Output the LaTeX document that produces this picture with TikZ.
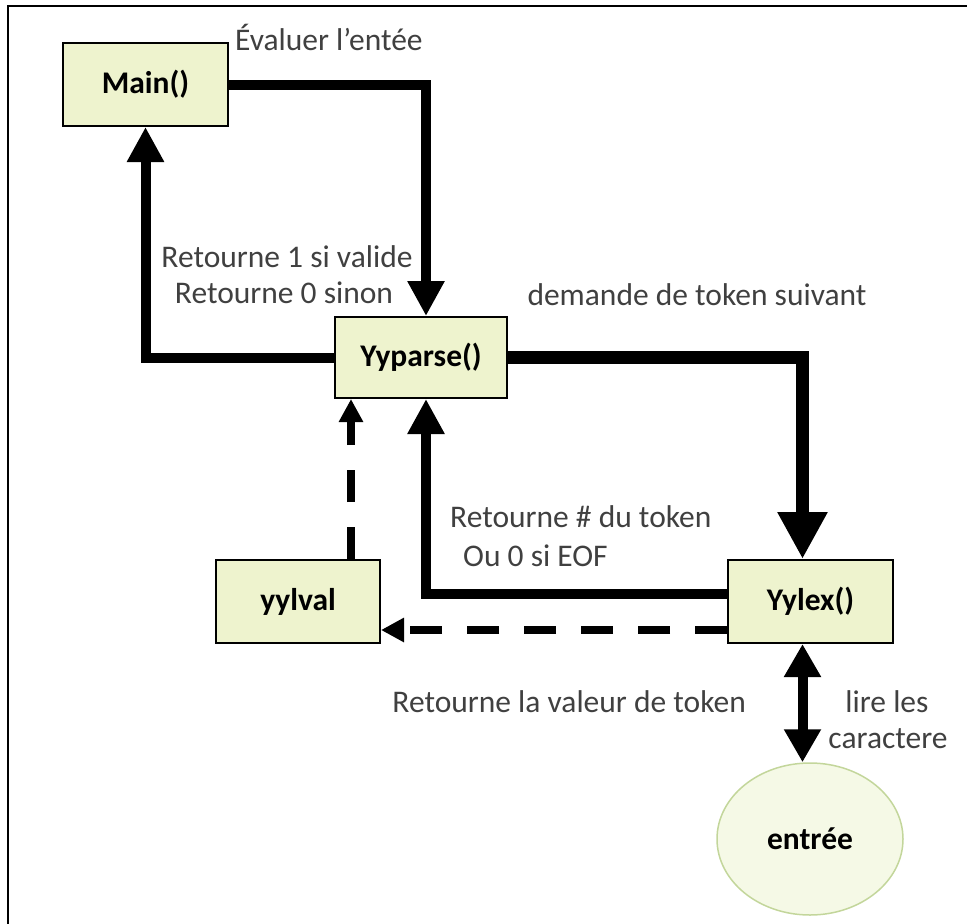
\documentclass[tikz,border=0pt]{standalone}
\usepackage{fontspec}
\setmainfont{Carlito}
\usetikzlibrary{arrows.meta,shapes.geometric}
\definecolor{boxfill}{RGB}{238,243,206}
\definecolor{ovalfill}{RGB}{245,249,230}
\definecolor{ovalline}{RGB}{195,214,155}
\definecolor{labelgray}{RGB}{64,64,64}
\begin{document}
\begin{tikzpicture}[x=1pt,y=-1pt,
  every node/.style={font=\fontsize{31.5}{38}\selectfont},
  func/.style={draw=black,line width=2pt,fill=boxfill,minimum width=165pt,minimum height=83pt,inner sep=0pt,font=\fontsize{31.5}{38}\selectfont\bfseries},
  oval/.style={ellipse,draw=ovalline,line width=1.5pt,fill=ovalfill,minimum width=186pt,minimum height=152pt,inner sep=0pt,font=\fontsize{31.5}{38}\selectfont\bfseries},
  lbl/.style={text=labelgray,inner sep=0pt},
  flow/.style={line width=10pt,line join=miter,-{Triangle[width=35pt,length=35pt]}},
  bigflow/.style={line width=13pt,line join=miter,-{Triangle[width=47pt,length=47pt]}},
  valflow/.style={line width=8pt,dash pattern=on 32pt off 25pt,-{Triangle[width=23pt,length=23pt]}}
]
\useasboundingbox (0,0) rectangle (967,924);

% frame
\draw[line width=2.5pt] (8,924) -- (8,6) -- (967,6);

% functions and input
\node[func] (main) at (145.5,84.5) {Main()};
\node[func,minimum width=172pt,minimum height=81pt] (yyparse) at (421,357.5) {Yyparse()};
\node[func,minimum width=164pt] (yylval) at (298,601.5) {yylval};
\node[func] (yylex) at (810.5,601.5) {Yylex()};
\node[oval] (entree) at (810,839) {entrée};

% calls and returns
\draw[flow] (main.east) -| ([xshift=5pt]yyparse.north);
\draw[flow] (yyparse.west) -| (main.south);
\draw[bigflow] (yyparse.east) -| ([xshift=-8pt]yylex.north);
\draw[flow] ([yshift=7.5pt]yylex.west) -| ([xshift=5pt]yyparse.south);
\draw[valflow] ([xshift=53pt]yylval.north) -- ([xshift=53pt]yylval.north |- yyparse.south);
\draw[valflow] ([yshift=-28.5pt]yylex.west) -- ([yshift=-28.5pt]yylval.east);
\draw[line width=10pt,{Triangle[width=35pt,length=33pt]}-{Triangle[width=35pt,length=33pt]}]
  ([xshift=-8pt]yylex.south) -- ([xshift=-8pt]yylex.south |- entree.north);

% labels
\node[lbl,anchor=base west] (t1) at (235,50) {Évaluer l’entée};
\node[lbl,anchor=base] (t2) at (287,267) {Retourne 1 si valide};
\node[lbl,anchor=base] (t3) at (284,303) {Retourne 0 sinon};
\node[lbl,anchor=base] (t4) at (697,305) {demande de token suivant};
\node[lbl,anchor=base west] (t5) at (450,527) {Retourne \# du token};
\node[lbl,anchor=base west] (t6) at (463,566) {Ou 0 si EOF};
\node[lbl,anchor=base east] (t7) at (746,712) {Retourne la valeur de token};
\node[lbl,anchor=base] (t8) at (887,712) {lire les};
\node[lbl,anchor=base] (t9) at (888,748) {caractere};
\end{tikzpicture}
\end{document}
